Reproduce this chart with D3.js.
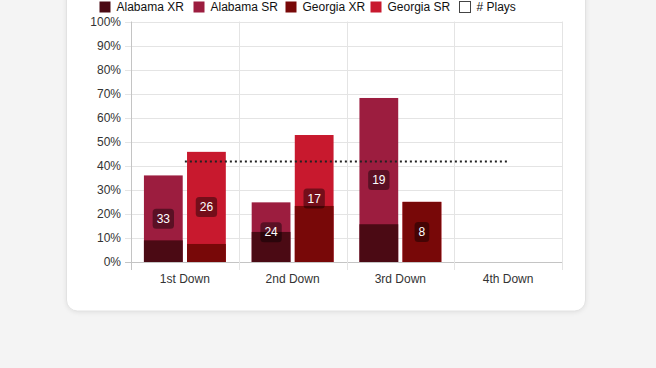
<!DOCTYPE html>
<html><head><meta charset="utf-8">
<script src="https://cdn.jsdelivr.net/npm/d3@7"></script>
<style>
html,body{margin:0;padding:0;background:#f4f4f4;width:656px;height:368px;overflow:hidden;font-family:"Liberation Sans",Arial,Helvetica,sans-serif;}
</style></head>
<body>
<svg id="chart" width="656" height="368"></svg>
<script>
const categories = ["1st Down","2nd Down","3rd Down","4th Down"];
const alabamaXR = [9, 12.5, 15.7, 0];
const alabamaSR = [36, 24.8, 68.2, 0];
const georgiaXR = [7.5, 23.3, 25, 0];
const georgiaSR = [45.8, 52.8, 25, 0];
const alabamaPlays = [33, 24, 19, 0];
const georgiaPlays = [26, 17, 8, 0];
const avgLine = [41.8, 41.8, 41.8, 41.8];
const yTicks = [0,10,20,30,40,50,60,70,80,90,100];
const legendItems = [
  {label:"Alabama XR", color:"#4b0a14"},
  {label:"Alabama SR", color:"#9c1d3f"},
  {label:"Georgia XR", color:"#780808"},
  {label:"Georgia SR", color:"#c8192e"},
  {label:"# Plays", color:"#ffffff"}
];

(function(){
const svg = d3.select("#chart");
svg.append("rect").attr("x",66.5).attr("y",-20).attr("width",519).attr("height",331)
  .attr("rx",11).attr("fill","#fff").attr("stroke","#e2e2e2").attr("stroke-width",1)
  .style("filter","drop-shadow(0px 1px 2px rgba(0,0,0,0.08))");

const pL=131, pR=562, pT=21.5, pB=262;
const x = d3.scaleBand().domain(categories).range([pL,pR]).paddingInner(0).paddingOuter(0);
const y = d3.scaleLinear().domain([0,100]).range([pB,pT]);
const off = x.bandwidth()*0.1;
const slot = x.bandwidth()*0.8/2;
const bw = slot*0.9;

const g = svg.append("g");
g.selectAll(".hg").data(yTicks).join("line")
  .attr("x1",pL-6).attr("x2",pR).attr("y1",d=>Math.round(y(d))+0.5).attr("y2",d=>Math.round(y(d))+0.5)
  .attr("stroke",d=>d===0?"#c4c4c4":"#e4e4e4").attr("stroke-width",1);
const vx = categories.map(c=>x(c)).concat([pR]);
g.selectAll(".vg").data(vx).join("line")
  .attr("x1",d=>Math.round(d)+0.5).attr("x2",d=>Math.round(d)+0.5).attr("y1",pT).attr("y2",pB+8)
  .attr("stroke",(d,i)=>i===0?"#c4c4c4":"#e4e4e4").attr("stroke-width",1);
g.selectAll(".yl").data(yTicks).join("text")
  .attr("x",121).attr("y",d=>y(d)).attr("dy","0.35em").attr("text-anchor","end")
  .attr("font-size",12).attr("fill","#333").text(d=>d+"%");
g.selectAll(".xl").data(categories).join("text")
  .attr("x",d=>x(d)+x.bandwidth()/2).attr("y",279).attr("dy","0.35em").attr("text-anchor","middle")
  .attr("font-size",12).attr("fill","#333").text(d=>d);

function barX(i, k){ return x(categories[i]) + off + k*slot + (slot-bw)/2; }

function drawBars(vals, k, color){
  g.append("g").selectAll("rect").data(vals).join("rect")
    .attr("x",(d,i)=>barX(i,k)).attr("width",bw)
    .attr("y",d=>y(d)).attr("height",d=>y(0)-y(d)).attr("fill",color);
}
drawBars(alabamaSR,0,"#9c1d3f");
drawBars(alabamaXR,0,"#4b0a14");
drawBars(georgiaSR,1,"#c8192e");
drawBars(georgiaXR,1,"#780808");

const line = d3.line().x((d,i)=>x(categories[i])+x.bandwidth()/2).y(d=>y(d));
g.append("path").datum(avgLine).attr("d",line).attr("fill","none")
  .attr("stroke","#222").attr("stroke-width",2).attr("stroke-dasharray","2,3");

function drawLabels(plays, srs, k){
  plays.forEach((p,i)=>{
    if(!p) return;
    const cx = barX(i,k)+bw/2;
    const cy = (y(srs[i])+y(0))/2;
    const r = g.append("rect");
    const t = g.append("text").attr("x",cx).attr("y",cy).attr("dy","0.35em").attr("text-anchor","middle")
      .attr("font-size",12).attr("fill","#fff").text(p);
    const w = t.node().getComputedTextLength()+8;
    r.attr("x",cx-w/2).attr("y",cy-10).attr("width",w).attr("height",20)
      .attr("rx",3.5).attr("fill","rgba(0,0,0,0.42)");
  });
}
drawLabels(alabamaPlays, alabamaSR, 0);
drawLabels(georgiaPlays, georgiaSR, 1);

const lx = [99, 193, 285, 370, 459];
const lg = svg.append("g");
legendItems.forEach((d,i)=>{
  lg.append("rect").attr("x",lx[i]+0.5).attr("y",1.5).attr("width",11).attr("height",11)
    .attr("fill",d.color).attr("stroke",i===4?"#444":"none").attr("stroke-width",1);
  lg.append("text").attr("x",lx[i]+17.5).attr("y",7).attr("dy","0.35em")
    .attr("font-size",12).attr("fill","#111").text(d.label);
});
})();
</script>
</body></html>
